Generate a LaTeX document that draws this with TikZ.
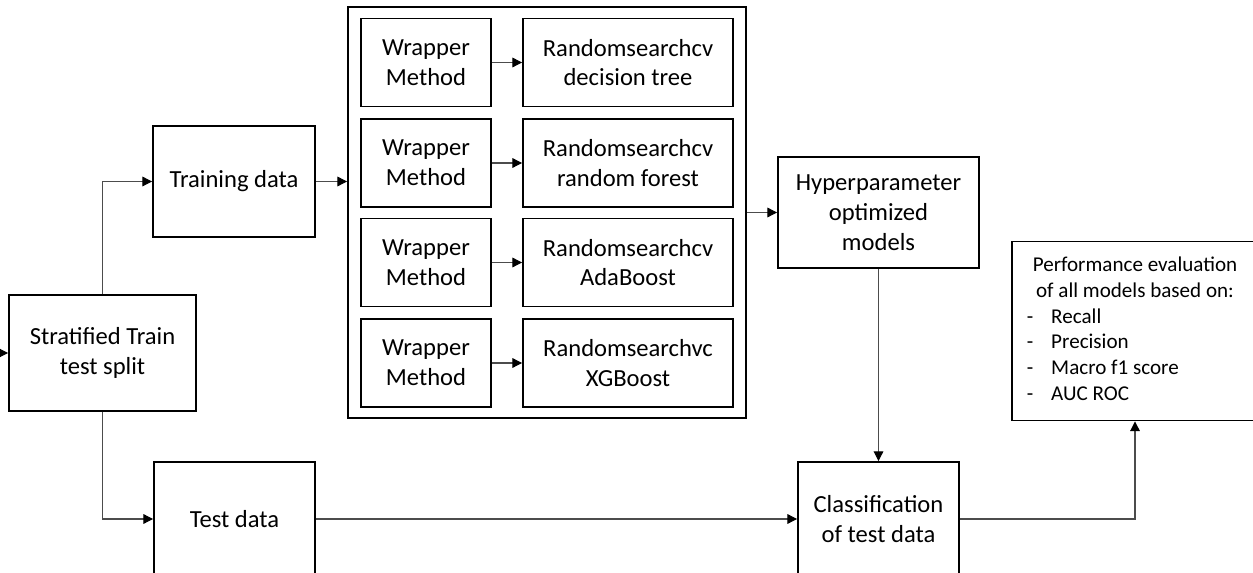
\documentclass[tikz,border=0pt]{standalone}
\usepackage{fontspec}
\setmainfont{Carlito}
\usetikzlibrary{arrows.meta}
\tikzset{
  box/.style={draw, line width=1.1pt, align=center, inner sep=0pt,
    font=\fontsize{14pt}{17pt}\selectfont},
  link/.style={draw=black!70, line width=0.6pt,
    -{Triangle[length=5.5pt,width=5.5pt,black]}},
}
\begin{document}
\begin{tikzpicture}[x=0.02cm, y=-0.02cm]
    \clip (0,0) rectangle (1253,573);

    % left part: split into train and test
    \coordinate (start) at (0,353);
    \node[box, minimum width=3.74cm, minimum height=2.32cm] (strat) at (102.5,353) {Stratified Train\\test split};
    \node[box, minimum width=3.24cm, minimum height=2.22cm] (train) at (234,181.5) {Training data};
    \node[box, minimum width=3.22cm, minimum height=2.28cm] (test) at (234.5,519) {Test data};

    % feature selection + tuning per model
    \node[box, minimum width=7.96cm, minimum height=8.22cm] (search) at (547,212.5) {};
    \foreach \i/\y/\top/\bot in {1/62.5/Randomsearchcv/decision tree,
                                 2/163/Randomsearchcv/random forest,
                                 3/262.5/Randomsearchcv/AdaBoost,
                                 4/363/Randomsearchvc/XGBoost} {
        \node[box, minimum width=2.6cm, minimum height=1.76cm] (wrap\i) at (426,\y) {Wrapper\\Method};
        \node[box, minimum width=4.2cm, minimum height=1.76cm] (rand\i) at (628,\y) {\top\\\bot};
        \draw[link] (wrap\i) -- (rand\i);
    }

    \node[box, minimum width=4.02cm, minimum height=2.22cm] (hyper) at (878.5,212.5) {Hyperparameter\\optimized\\models};
    \node[box, minimum width=3.22cm, minimum height=2.28cm] (classif) at (878.5,519) {Classification\\of test data};
    \node[box, minimum width=4.92cm, minimum height=3.58cm, font=\fontsize{12pt}{14.6pt}\selectfont] (perf) at (1135,331) {%
        \begin{tabular}{@{\hspace{-0.12cm}}l@{\hspace{0.36cm}}l@{}}
        \multicolumn{2}{@{}c@{}}{Performance evaluation}\\
        \multicolumn{2}{@{}c@{}}{of all models based on:}\\
        - & Recall\\
        - & Precision\\
        - & Macro f1 score\\
        - & AUC ROC
        \end{tabular}};

    \draw[link] (start) -- (strat.west);
    \draw[link] (strat.north) |- (train.west);
    \draw[link] (strat.south) |- (test.west);
    \draw[link] (train.east) -- (train.east -| search.west);
    \draw[link] (search.east) -- (hyper.west);
    \draw[link] (hyper) -- (classif);
    \draw[link] (test) -- (classif);
    \draw[link] (classif.east) -| (perf.south);
\end{tikzpicture}
\end{document}
